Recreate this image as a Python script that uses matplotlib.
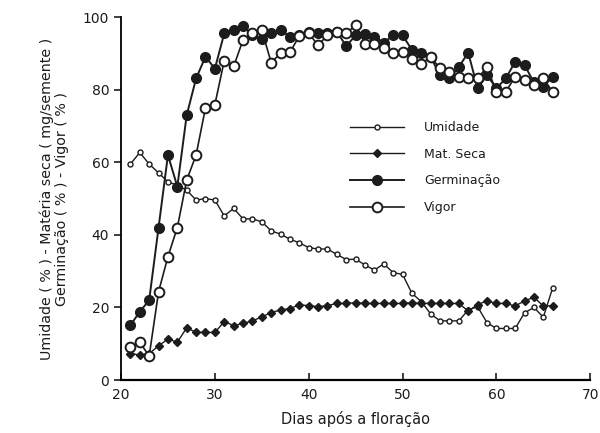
import numpy as np
import matplotlib
matplotlib.use('Agg')
import matplotlib.pyplot as plt

# dias apos a floracao (21..66)
dias = list(range(21, 67))

umidade = [59.5, 62.7, 59.5, 57.1, 54.6, 53.7, 52.3, 49.6, 50.0, 49.6,
           45.2, 47.3, 44.4, 44.4, 43.6, 41.1, 40.2, 38.8, 37.8, 36.5,
           36.1, 36.1, 34.6, 33.2, 33.3, 31.7, 30.3, 32.0, 29.6, 29.1,
           23.9, 21.6, 18.2, 16.3, 16.3, 16.3, 19.3, 20.2, 15.8, 14.2,
           14.2, 14.2, 18.5, 20.0, 17.3, 25.4]

mat_seca = [7.3, 6.9, 7.3, 9.4, 11.3, 10.4, 14.4, 13.1, 13.1, 13.1,
            16.1, 15.0, 15.6, 16.3, 17.4, 18.6, 19.3, 19.7, 20.7, 20.5,
            20.2, 20.5, 21.1, 21.1, 21.3, 21.1, 21.1, 21.1, 21.1, 21.1,
            21.3, 21.1, 21.1, 21.1, 21.1, 21.1, 19.0, 20.8, 21.8, 21.1,
            21.1, 20.4, 21.8, 22.8, 20.4, 20.5]

germinacao = [15.1, 18.8, 22.0, 42.0, 62.0, 53.3, 73.0, 83.1, 89.1, 85.8,
              95.5, 96.4, 97.5, 95.0, 94.0, 95.5, 96.5, 94.5, 95.0, 96.0,
              95.7, 95.5, 96.0, 92.0, 95.0, 95.3, 94.6, 93.0, 95.0, 95.0,
              91.0, 90.0, 89.0, 84.0, 83.1, 86.3, 90.2, 80.4, 84.0, 80.4,
              83.1, 87.7, 86.8, 82.0, 80.8, 83.6]

vigor = [9.2, 10.4, 6.6, 24.3, 34.0, 42.0, 55.1, 62.0, 75.0, 75.9,
         88.0, 86.4, 93.7, 95.5, 96.4, 87.5, 90.0, 90.3, 94.8, 95.5,
         92.3, 95.0, 96.0, 95.5, 97.8, 92.7, 92.7, 91.6, 90.0, 90.4,
         88.6, 87.2, 89.0, 85.9, 84.9, 83.6, 83.1, 83.1, 86.3, 79.4,
         79.4, 83.6, 82.6, 81.3, 83.1, 79.4]

cor = '#1c1c1c'

fig = plt.figure(figsize=(6, 4.33), dpi=100)
ax = fig.add_axes([0.2017, 0.1224, 0.782, 0.838])

ax.plot(dias, umidade, '-', color=cor, lw=1.0, marker='o', ms=3.6,
        mfc='white', mec=cor, mew=1.0, label='Umidade')
ax.plot(dias, mat_seca, '-', color=cor, lw=1.0, marker='D', ms=4,
        mfc=cor, mec=cor, label='Mat. Seca')
ax.plot(dias, germinacao, '-', color=cor, lw=1.4, marker='o', ms=7,
        mfc=cor, mec=cor, label='Germinação')
ax.plot(dias, vigor, '-', color=cor, lw=1.2, marker='o', ms=7,
        mfc='white', mec=cor, mew=1.4, label='Vigor')

ax.set_xlim(20, 70)
ax.set_ylim(0, 100)
ax.set_xticks([20, 30, 40, 50, 60, 70])
ax.set_yticks([0, 20, 40, 60, 80, 100])
ax.spines['top'].set_visible(False)
ax.spines['right'].set_visible(False)
ax.spines['left'].set_linewidth(1.3)
ax.spines['bottom'].set_linewidth(1.6)
ax.tick_params(axis='y', direction='out', length=5, width=1.2, labelsize=10, colors=cor)
ax.tick_params(axis='x', direction='in', length=5, width=1.2, labelsize=10, colors=cor, pad=6)

ax.set_xlabel('Dias após a floração', fontsize=10.5, color=cor, labelpad=6)
ax.set_ylabel('Umidade ( % ) - Matéria seca ( mg/semente )\nGerminação ( % ) - Vigor ( % )',
              fontsize=10.3, color=cor, labelpad=10, linespacing=1.05)

leg = ax.legend(loc='upper left', bbox_to_anchor=(0.465, 0.745), frameon=False,
                fontsize=9, handlelength=4.3, handletextpad=1.6, labelspacing=1.1,
                numpoints=1)
for t in leg.get_texts():
    t.set_color(cor)

fig.savefig('out.png', dpi=100)
